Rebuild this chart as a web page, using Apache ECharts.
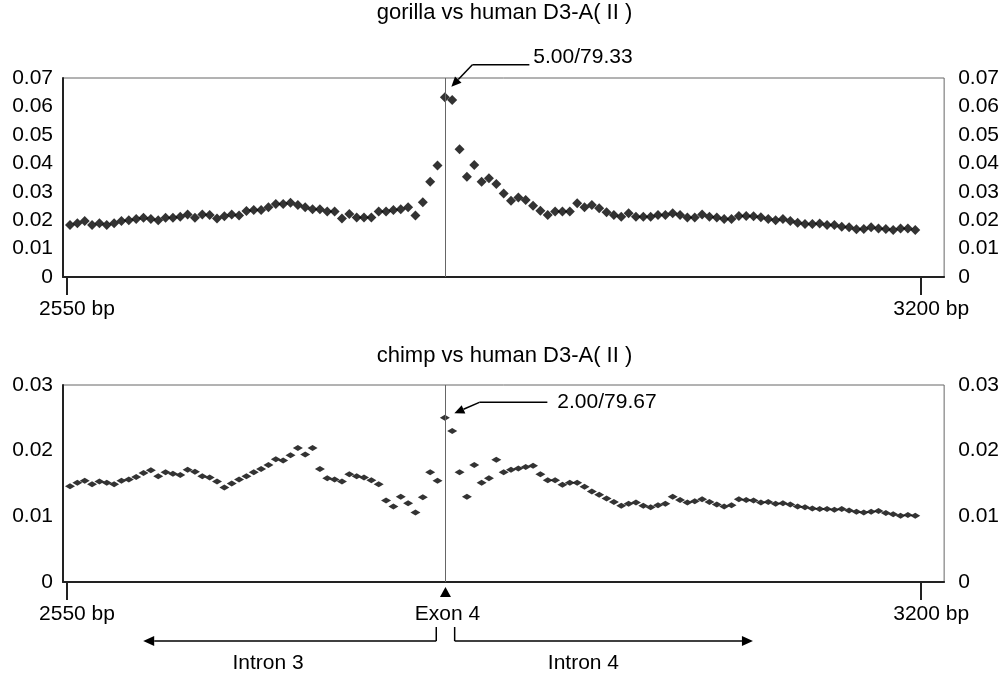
<!DOCTYPE html>
<html><head><meta charset="utf-8">
<script src="https://cdn.jsdelivr.net/npm/echarts@6/dist/echarts.min.js"></script>
<style>html,body{margin:0;padding:0;background:#fff}#c{width:1002px;height:673px}</style>
</head><body><div id="c"></div>
<script>
// ---- data ----
const titles = ['gorilla vs human D3-A( II )', 'chimp vs human D3-A( II )'];
const windowStart = 2552.3;   // bp, first window centre
const windowStep = 5.593;     // bp between windows
const gorilla = [
  0.0183,0.0189,0.0197,0.0183,0.0189,0.0183,0.0189,0.0197,0.0200,0.0204,0.0208,0.0204,0.0200,0.0208,0.0208,0.0212,0.0220,0.0208,0.0220,0.0218,0.0206,0.0214,0.0220,0.0216,0.0232,0.0236,
  0.0236,0.0245,0.0257,0.0257,0.0261,0.0253,0.0245,0.0238,0.0238,0.0230,0.0230,0.0206,0.0222,0.0209,0.0209,0.0209,0.0230,0.0230,0.0236,0.0238,0.0245,0.0216,0.0263,0.0335,0.0392,
  0.0632,0.0623,0.0449,0.0353,0.0394,0.0335,0.0347,0.0327,0.0294,0.0268,0.0280,0.0271,0.0251,0.0233,0.0218,0.0230,0.0230,0.0230,0.0259,0.0245,0.0253,0.0242,0.0228,0.0218,0.0212,
  0.0224,0.0212,0.0212,0.0212,0.0218,0.0218,0.0224,0.0218,0.0209,0.0209,0.0220,0.0212,0.0209,0.0204,0.0204,0.0215,0.0215,0.0214,0.0210,0.0204,0.0200,0.0204,0.0197,0.0191,0.0186,0.0186,0.0188,0.0183,0.0183,0.0177,0.0175,0.0168,0.0169,0.0175,0.0171,0.0169,0.0165,0.0171,0.0171,0.0165
];
const chimp = [
  0.0146,0.0151,0.0154,0.0149,0.0153,0.0151,0.0149,0.0154,0.0156,0.0160,0.0166,0.0170,0.0161,0.0167,0.0165,0.0163,0.0171,0.0168,0.0161,0.0159,0.0153,0.0144,0.0150,0.0156,0.0161,
  0.0167,0.0172,0.0178,0.0187,0.0185,0.0193,0.0204,0.0194,0.0204,0.0172,0.0158,0.0156,0.0153,0.0164,0.0161,0.0159,0.0155,0.0149,0.0124,0.0115,0.0130,0.0120,0.0106,0.0129,0.0167,0.0154,0.0250,
  0.0230,0.0167,0.0130,0.0178,0.0151,0.0158,0.0186,0.0167,0.0171,0.0173,0.0175,0.0177,0.0164,0.0155,0.0155,0.0148,0.0151,0.0151,0.0145,0.0138,0.0133,0.0127,0.0122,
  0.0116,0.0119,0.0121,0.0116,0.0114,0.0117,0.0119,0.0130,0.0125,0.0121,0.0123,0.0126,0.0122,0.0118,0.0115,0.0117,0.0126,0.0125,0.0124,0.0121,0.0122,0.0119,0.0120,0.0118,0.0115,0.0114,0.0112,0.0111,0.0111,0.0110,0.0111,0.0109,0.0107,0.0106,0.0107,0.0108,0.0105,0.0103,0.0101,0.0102,0.0101
];
const xTickValues = [2550, 3200];
const yMax = [0.07, 0.03];
const exonPos = 2838;
const peakIndex = 51;
const peakLabels = ['5.00/79.33', '2.00/79.67'];
const exonLabel = 'Exon 4';
const introns = [
  {name: 'Intron 3', from: 2831, to: 2608, labelAt: 2703},
  {name: 'Intron 4', from: 2845, to: 3072, labelAt: 2943}
];

// ---- chart ----
const positions = gorilla.map((_, i) => +(windowStart + i * windowStep).toFixed(2));
const FONT = 'Liberation Sans, Arial, sans-serif';
const INK = '#000';
const FS = 21;
const grids = [
  {left: 63, top: 78, width: 883, height: 199},
  {left: 63, top: 385, width: 883, height: 197}
];
const yFmt = v => v === 0 ? '0' : v.toFixed(2);

const xAxes = grids.map((g, i) => ({
  type: 'value', gridIndex: i, min: 2546.96, max: 3217.47,
  axisLine: {show: true, onZero: false, lineStyle: {color: '#222', width: 2}},
  axisTick: {show: true, customValues: xTickValues, length: 18, lineStyle: {color: '#222', width: 2}},
  axisLabel: {show: true, customValues: xTickValues, formatter: v => v + ' bp', margin: 22,
    color: INK, fontSize: FS, fontFamily: FONT, padding: [0, 0, 0, 20]},
  splitLine: {show: false}
}));
const yAxes = [];
grids.forEach((g, i) => {
  yAxes.push({type: 'value', gridIndex: i, min: 0, max: yMax[i], interval: 0.01, position: 'left',
    axisLine: {show: true, onZero: false, lineStyle: {color: '#222', width: 2}},
    axisTick: {show: false}, splitLine: {show: false},
    axisLabel: {formatter: yFmt, margin: 10, color: INK, fontSize: FS, fontFamily: FONT}});
  yAxes.push({type: 'value', gridIndex: i, min: 0, max: yMax[i], interval: 0.01, position: 'right',
    axisLine: {show: false}, axisTick: {show: false}, splitLine: {show: false},
    axisLabel: {formatter: yFmt, margin: 14, color: INK, fontSize: FS, fontFamily: FONT}});
});

const exonLine = {silent: true, symbol: 'none', label: {show: false},
  lineStyle: {color: '#666', width: 1, type: 'solid'}, data: [{xAxis: exonPos}]};

const option = {
  animation: false,
  backgroundColor: '#fff',
  title: [
    {text: titles[0], left: 504.5, top: 2, textAlign: 'center', padding: 0,
      textStyle: {color: INK, fontSize: 22, fontWeight: 'normal', fontFamily: FONT}},
    {text: titles[1], left: 504.5, top: 345, textAlign: 'center', padding: 0,
      textStyle: {color: INK, fontSize: 22, fontWeight: 'normal', fontFamily: FONT}}
  ],
  grid: grids.map(g => Object.assign({show: true, borderColor: '#666', borderWidth: 1, backgroundColor: 'transparent'}, g)),
  xAxis: xAxes,
  yAxis: yAxes,
  series: [
    {type: 'scatter', xAxisIndex: 0, yAxisIndex: 0, symbol: 'diamond', symbolSize: [10, 10],
      itemStyle: {color: INK}, data: gorilla.map((v, i) => [positions[i], v]), markLine: exonLine, z: 3},
    {type: 'scatter', xAxisIndex: 1, yAxisIndex: 2, symbol: 'diamond', symbolSize: [10, 6],
      itemStyle: {color: INK}, data: chimp.map((v, i) => [positions[i], v]), markLine: exonLine, z: 3}
  ]
};

const chart = echarts.init(document.getElementById('c'));
chart.setOption(option);

const px = (g, x, y) => chart.convertToPixel({xAxisIndex: g, yAxisIndex: g * 2}, [x, y]);
function arrow(from, tip, len, half, w) {
  const dx = tip[0] - from[0], dy = tip[1] - from[1], d = Math.hypot(dx, dy);
  const ux = dx / d, uy = dy / d;
  const bx = tip[0] - ux * len, by = tip[1] - uy * len;
  return [
    {type: 'line', shape: {x1: from[0], y1: from[1], x2: bx, y2: by}, style: {stroke: INK, lineWidth: w}},
    {type: 'polygon', shape: {points: [tip, [bx - uy * half, by + ux * half], [bx + uy * half, by - ux * half]]}, style: {fill: INK}}
  ];
}
const gfx = [];
const font = FS + 'px ' + FONT;
// peak callouts
{
  const p = px(0, positions[peakIndex], gorilla[peakIndex]);
  const tip = [p[0] + 6.5, p[1] - 10.5], elbow = [tip[0] + 21, tip[1] - 22], end = [elbow[0] + 57, elbow[1]];
  gfx.push({type: 'line', shape: {x1: elbow[0], y1: elbow[1], x2: end[0], y2: end[1]}, style: {stroke: INK, lineWidth: 1.5}});
  gfx.push(...arrow(elbow, tip, 10, 4.5, 1.5));
  gfx.push({type: 'text', x: end[0] + 4, y: end[1] - 8, style: {text: peakLabels[0], fill: INK, font: font, textAlign: 'left', textVerticalAlign: 'middle'}});
}
{
  const p = px(1, positions[peakIndex], chimp[peakIndex]);
  const tip = [p[0] + 9.5, p[1] - 4.5], elbow = [tip[0] + 25, tip[1] - 11], end = [elbow[0] + 68, elbow[1]];
  gfx.push({type: 'line', shape: {x1: elbow[0], y1: elbow[1], x2: end[0], y2: end[1]}, style: {stroke: INK, lineWidth: 1.5}});
  gfx.push(...arrow(elbow, tip, 10, 4.5, 1.5));
  gfx.push({type: 'text', x: end[0] + 10, y: end[1], style: {text: peakLabels[1], fill: INK, font: font, textAlign: 'left', textVerticalAlign: 'middle'}});
}
// exon / intron annotation under lower chart
{
  const e = px(1, exonPos, 0);
  gfx.push({type: 'polygon', shape: {points: [[e[0], e[1] + 5], [e[0] - 5.5, e[1] + 15], [e[0] + 5.5, e[1] + 15]]}, style: {fill: INK}});
  gfx.push({type: 'text', x: e[0] + 2, y: e[1] + 32, style: {text: exonLabel, fill: INK, font: font, textAlign: 'center', textVerticalAlign: 'middle'}});
  introns.forEach(r => {
    const a = px(1, r.from, 0)[0], b = px(1, r.to, 0)[0], c = px(1, r.labelAt, 0)[0];
    const yA = e[1] + 59;
    gfx.push({type: 'line', shape: {x1: a, y1: e[1] + 45, x2: a, y2: yA}, style: {stroke: INK, lineWidth: 1.5}});
    gfx.push(...arrow([a, yA], [b, yA], 11, 5, 1.5));
    gfx.push({type: 'text', x: c, y: e[1] + 81, style: {text: r.name, fill: INK, font: font, textAlign: 'center', textVerticalAlign: 'middle'}});
  });
}
chart.setOption({graphic: gfx});
</script>
</body></html>
